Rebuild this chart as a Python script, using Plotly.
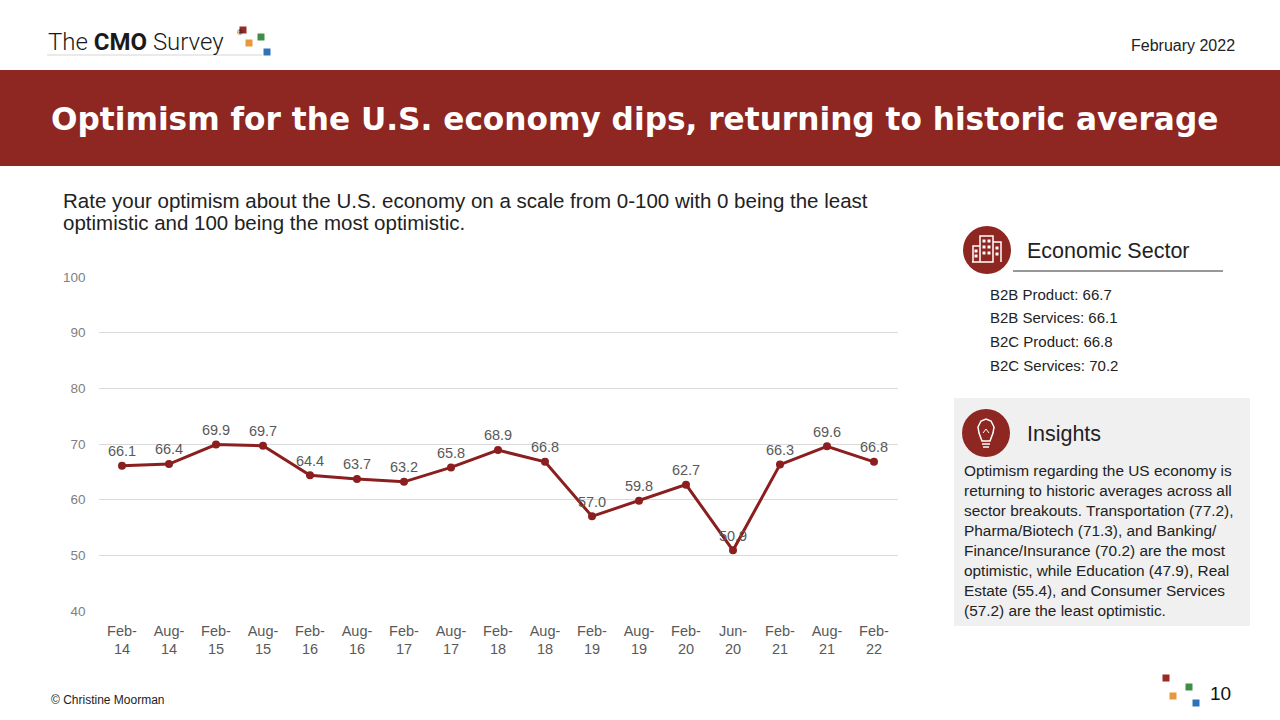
import plotly.graph_objects as go

W, H = 1280, 720
RED = "#8E2621"
LINE_RED = "#8B1E1E"
BODY = "Liberation Sans, Arial, sans-serif"

# survey waves and the average optimism score (0-100)
waves = ["Feb-14", "Aug-14", "Feb-15", "Aug-15", "Feb-16", "Aug-16", "Feb-17", "Aug-17",
         "Feb-18", "Aug-18", "Feb-19", "Aug-19", "Feb-20", "Jun-20", "Feb-21", "Aug-21", "Feb-22"]
optimism = [66.1, 66.4, 69.9, 69.7, 64.4, 63.7, 63.2, 65.8,
            68.9, 66.8, 57.0, 59.8, 62.7, 50.9, 66.3, 69.6, 66.8]
y_ticks = [40, 50, 60, 70, 80, 90, 100]

# economic sector breakout
sector_names = ["B2B Product", "B2B Services", "B2C Product", "B2C Services"]
sector_values = [66.7, 66.1, 66.8, 70.2]

insight_lines = [
    "Optimism regarding the US economy is",
    "returning to historic averages across all",
    "sector breakouts. Transportation (77.2),",
    "Pharma/Biotech (71.3), and Banking/",
    "Finance/Insurance (70.2) are the most",
    "optimistic, while Education (47.9), Real",
    "Estate (55.4), and Consumer Services",
    "(57.2) are the least optimistic.",
]


def px(x):
    return x / W


def py(y):
    return 1 - y / H


def text(fig, x, y, s, size, color="#222222", anchor="left", family=BODY, weight="normal"):
    fig.add_annotation(x=px(x), y=py(y), xref="paper", yref="paper", text=s,
                       showarrow=False, xanchor=anchor, yanchor="middle", borderpad=0,
                       font=dict(size=size, color=color, family=family, weight=weight))


def rect(fig, x0, y0, x1, y1, fill, layer="below"):
    fig.add_shape(type="rect", xref="paper", yref="paper",
                  x0=px(x0), x1=px(x1), y0=py(y1), y1=py(y0),
                  fillcolor=fill, line=dict(color=fill, width=0), layer=layer)


def circle(fig, cx, cy, r, fill):
    fig.add_shape(type="circle", xref="paper", yref="paper",
                  x0=px(cx - r), x1=px(cx + r), y0=py(cy + r), y1=py(cy - r),
                  fillcolor=fill, line=dict(color=fill, width=0))


def path(fig, pts, color="white", width=1.5, closed=False):
    d = "M " + " L ".join(f"{px(x)},{py(y)}" for x, y in pts)
    if closed:
        d += " Z"
    fig.add_shape(type="path", xref="paper", yref="paper", path=d,
                  line=dict(color=color, width=width))


def squares(fig, pts, s):
    cols = ["#9B2A22", "#E8973A", "#3E8E47", "#2F72BA"]
    for (x, y), c in zip(pts, cols):
        rect(fig, x - s / 2, y - s / 2, x + s / 2, y + s / 2, c)


fig = go.Figure()
fig.add_trace(go.Scatter(
    x=waves, y=optimism, mode="lines+markers+text",
    line=dict(color=LINE_RED, width=3), marker=dict(size=8, color=LINE_RED),
    texttemplate="%{y:.1f}", textposition="top center",
    textfont=dict(size=14.5, color="#595959", family=BODY),
    cliponaxis=False, hoverinfo="skip"))

fig.update_layout(
    width=W, height=H, margin=dict(l=0, r=0, t=0, b=0, pad=0, autoexpand=False),
    paper_bgcolor="white", plot_bgcolor="white", showlegend=False,
    xaxis=dict(domain=[px(98.5), px(897.5)], type="category", automargin=False,
               range=[-0.5, len(waves) - 0.5],
               tickvals=waves, ticktext=[w.replace("-", "-<br>") for w in waves],
               tickfont=dict(size=14.5, color="#595959", family=BODY),
               showgrid=False, showline=False, ticks="", ticklabelstandoff=9),
    yaxis=dict(domain=[py(611), py(277)], range=[40, 100], tickvals=y_ticks, automargin=False,
               tickfont=dict(size=13.5, color="#7F7F7F", family=BODY),
               showgrid=True, gridcolor="#D9D9D9", gridwidth=1, zeroline=False,
               showline=False, ticks="", ticklabelstandoff=12),
)

# header
text(fig, 47, 42, "The <b>CMO</b> Survey", 24, color="#1A1A1A", family="Roboto", weight=300)
text(fig, 236, 33, "®", 8, color="#1A1A1A")
squares(fig, [(243, 30), (249, 43), (261, 37), (267, 52)], 7)
path(fig, [(47, 55), (262, 55)], color="#D5D5D5", width=1)
text(fig, 1236, 45, "February 2022", 16, anchor="right")

rect(fig, 0, 70, W, 166, RED)
text(fig, 50, 119, "Optimism for the U.S. economy dips, returning to historic average", 31.2,
     color="white", family="DejaVu Sans", weight="bold")

# question
text(fig, 62, 200, "Rate your optimism about the U.S. economy on a scale from 0-100 with 0 being the least", 20.5)
text(fig, 62, 222, "optimistic and 100 being the most optimistic.", 20.5)

# economic sector panel
circle(fig, 987, 250, 24, RED)
path(fig, [(973, 262), (973, 246), (980, 246)])
path(fig, [(980, 262), (980, 236), (993, 236), (993, 262), (972, 262)])
path(fig, [(993, 242), (1001, 242), (1001, 262)])
for wx, wy in [(976, 251), (976, 256), (984, 241), (989, 241), (984, 247), (989, 247),
               (984, 253), (989, 253), (997, 248), (997, 254)]:
    rect(fig, wx - 1.5, wy - 1.5, wx + 1.5, wy + 1.5, "white", layer="above")
text(fig, 1026, 251, "Economic Sector", 21.5)
path(fig, [(1013, 271), (1223, 271)], color="#333333", width=1)
for i, (n, v) in enumerate(zip(sector_names, sector_values)):
    text(fig, 989, 294 + i * 23.7, f"{n}: {v}", 15)

# insights panel
rect(fig, 954, 398, 1250, 626, "#F0F0F0")
circle(fig, 986, 433, 24, RED)
path(fig, [(982, 441), (979, 433), (978, 427), (981, 421), (986, 419), (991, 421),
           (994, 427), (993, 433), (990, 441)], closed=True)
path(fig, [(982, 444), (990, 444)])
path(fig, [(983, 447), (989, 447)])
path(fig, [(983, 433), (986, 429), (989, 433)], width=1)
text(fig, 1026, 434, "Insights", 21.5)
for i, line in enumerate(insight_lines):
    text(fig, 963, 470 + i * 20.1, line, 15.4)

# footer
text(fig, 50, 700, "© Christine Moorman", 12)
squares(fig, [(1166, 678), (1173, 696), (1189, 687), (1196, 703)], 7)
text(fig, 1220, 693, "10", 19, anchor="center", color="#111111")

# page margins off so the 1280x720 figure fills the window
post = """
var s = document.createElement('style');
s.innerHTML = 'html,body{margin:0;padding:0;overflow:hidden}';
document.head.appendChild(s);
"""
fig.write_html("out.html", post_script=post, config={"displayModeBar": False})
